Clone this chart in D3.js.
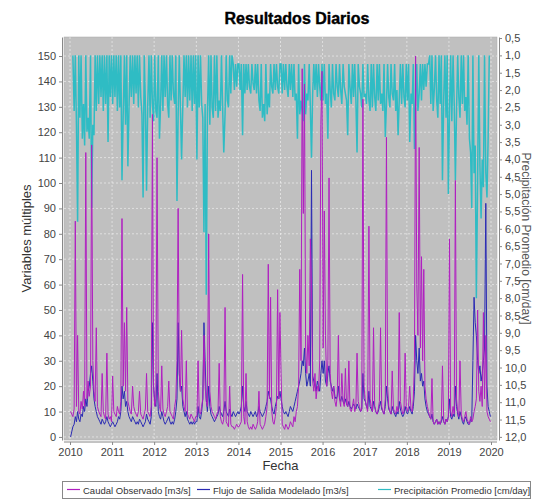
<!DOCTYPE html>
<html lang="es">
<head>
<meta charset="utf-8">
<title>Resultados Diarios</title>
<script src="https://cdnjs.cloudflare.com/ajax/libs/d3/7.8.5/d3.min.js"></script>
<style>
  body { margin: 0; background: #ffffff; }
  svg { display: block; font-family: "Liberation Sans", "DejaVu Sans", sans-serif; }
  .axis text { fill: #444; font-size: 11px; }
  .axis line, .axis path { stroke: #888; }
</style>
</head>
<body>
<svg id="chart" width="534" height="499"></svg>
<script>
// years covered, 36 samples (~10 days) per year
var years = [2010, 2011, 2012, 2013, 2014, 2015, 2016, 2017, 2018, 2019];
var xTicks = [2010, 2011, 2012, 2013, 2014, 2015, 2016, 2017, 2018, 2019, 2020];
var leftTicks = [0, 10, 20, 30, 40, 50, 60, 70, 80, 90, 100, 110, 120, 130, 140, 150];
var rightTicks = [0.5, 1, 1.5, 2, 2.5, 3, 3.5, 4, 4.5, 5, 5.5, 6, 6.5, 7, 7.5, 8, 8.5, 9, 9.5, 10, 10.5, 11, 11.5, 12];
var seriesNames = ["Caudal Observado [m3/s]", "Flujo de Salida Modelado [m3/s]", "Precipitación Promedio [cm/day]"];
var seriesColors = ["#b01fc0", "#2a2ab4", "#2fbcc4"];

// Caudal Observado [m3/s]
var caudal = [
  10,9,8,11,85,12,40,10,9,14,11,18,12,112,15,22,16,20,115,30,18,14,43,12,10,9,8,25,10,8,7,33,9,7,8,6,          // 2010
  24,10,9,8,12,10,9,14,86,20,45,18,51,14,12,10,9,20,12,10,9,8,10,18,9,8,7,9,11,25,10,9,8,12,127,20,           // 2011
  12,15,110,18,12,10,28,11,9,8,10,12,22,10,9,8,7,12,15,30,90,25,18,42,15,12,10,30,9,8,7,9,8,7,6,8,            // 2012
  8,30,10,9,12,15,40,20,14,12,80,18,12,10,9,8,7,9,10,29,8,6,5,7,51,6,5,4,20,5,4,4,3,4,5,4,                    // 2013
  4,5,6,64,8,5,25,6,4,3,4,3,5,4,3,4,6,18,5,4,3,4,5,8,12,68,15,55,10,6,5,8,12,58,15,49,                        // 2014
  25,5,4,3,5,4,3,4,6,5,4,8,6,10,12,20,66,30,145,88,139,35,25,40,28,78,60,22,18,25,15,20,18,30,123,144,        // 2015
  35,89,40,20,30,102,25,18,15,20,14,12,16,40,15,12,25,14,12,27,13,12,30,11,10,12,15,10,12,33,14,12,10,11,133,20, // 2016
  14,12,10,83,15,12,10,43,12,10,9,11,14,43,12,10,9,15,118,20,12,10,9,26,11,10,9,12,10,49,14,11,9,10,33,12,     // 2017
  10,12,20,11,10,15,30,150,60,40,114,35,71,30,66,20,15,12,10,8,7,23,6,5,6,7,5,6,5,7,28,6,5,7,6,8,             // 2018
  78,10,8,12,9,101,15,10,8,30,9,7,6,8,10,7,6,5,8,6,7,10,12,15,50,18,14,20,12,49,15,40,10,8,7,6                // 2019
];

// Flujo de Salida Modelado [m3/s]
var flujo = [
  0,2,4,5,8,6,10,7,6,9,8,12,10,15,12,18,20,25,28,22,15,12,10,8,7,6,5,7,6,5,6,8,6,5,4,5,
  6,5,4,5,6,8,7,10,20,15,18,12,14,10,8,7,6,8,7,6,5,6,5,7,6,5,4,5,6,9,7,6,5,8,45,20,
  14,12,25,10,8,7,10,8,6,5,6,7,8,6,5,6,5,7,10,15,45,25,18,20,12,10,8,10,7,6,5,6,5,6,5,6,
  6,12,8,7,10,15,45,30,15,10,20,12,9,8,7,6,7,8,9,12,10,9,8,10,14,10,9,8,11,9,8,10,9,8,9,10,
  9,10,12,20,12,10,14,10,9,8,10,9,8,9,10,8,9,12,10,9,8,9,10,12,14,18,16,15,12,10,9,12,14,16,15,18,
  15,12,10,9,10,9,8,10,12,11,10,12,14,16,18,20,22,25,30,28,35,25,20,22,25,20,105,24,22,20,18,22,20,18,25,30,
  25,30,22,20,25,28,22,20,18,20,16,15,16,20,15,14,16,14,13,15,13,12,14,12,11,12,13,12,11,13,12,11,10,11,25,15,
  14,12,11,18,12,11,10,14,12,10,9,10,12,14,11,10,9,12,20,15,11,10,9,12,10,9,8,10,9,14,11,9,8,9,12,10,
  9,10,12,10,9,12,18,40,30,25,35,22,25,20,22,15,12,10,9,8,7,9,6,5,6,7,5,6,5,6,8,6,5,7,6,8,
  15,8,7,9,8,20,12,9,7,10,8,6,5,7,8,6,5,5,7,6,30,55,45,40,30,25,28,22,25,30,35,92,20,12,10,8
];

// Precipitación Promedio [cm/day] (eje derecho, invertido)
var precip = [
  null,null,1.0,2.6,1.0,3.0,5.8,1.0,2.8,1.0,3.4,2.4,3.6,1.0,3.2,2.8,3.4,1.0,5.4,3.0,3.3,1.0,2.6,1.0,2.4,1.0,2.2,1.0,2.6,1.0,2.4,1.0,3.5,1.0,2.2,1.0,
  2.4,1.0,2.2,1.0,2.6,1.0,2.5,1.0,4.6,2.8,1.0,3.0,1.0,4.2,2.5,1.0,2.2,1.0,2.4,1.0,2.1,1.0,2.5,1.0,2.2,2.7,5.1,1.0,2.4,4.9,2.5,1.0,2.8,1.0,2.4,2.9,
  1.0,2.6,2.8,1.0,3.4,2.4,1.0,2.6,1.0,2.2,1.0,2.4,2.8,1.0,2.3,1.0,2.1,2.4,1.0,5.2,2.7,1.0,2.5,4.0,2.4,1.0,2.2,1.0,2.5,1.0,2.3,1.0,2.6,1.0,2.4,1.0,
  4.0,1.0,2.5,1.0,2.4,2.8,6.1,2.4,7.9,2.7,1.0,3.0,1.0,2.5,2.8,1.0,2.6,1.0,2.8,2.3,2.6,1.0,2.5,3.8,2.7,1.0,2.3,2.5,1.0,2.1,1.0,1.25,2.0,1.25,1.9,1.25,
  1.25,2.0,1.25,3.3,1.25,2.1,1.25,2.0,1.25,1.9,2.1,1.25,1.8,2.0,1.25,2.1,1.25,2.3,2.6,1.25,2.8,2.4,2.9,1.25,2.7,2.1,2.5,1.25,1.9,2.1,1.25,2.0,1.25,1.9,2.1,1.25,
  1.25,2.1,1.25,2.0,1.25,1.9,2.2,1.25,2.0,1.25,2.2,1.25,2.3,2.1,3.4,1.25,2.7,2.3,2.6,2.9,1.25,2.7,2.1,2.3,1.25,2.5,3.95,2.1,1.25,2.0,1.25,2.2,1.25,1.9,2.3,1.25,
  2.3,1.25,2.4,2.1,3.4,1.25,2.0,2.5,1.25,2.1,2.3,1.25,1.9,2.2,1.25,2.0,2.4,1.25,1.9,2.1,2.3,3.3,1.25,1.9,2.4,1.25,2.2,1.25,2.3,3.8,1.25,1.9,2.1,2.5,1.25,2.2,
  2.1,2.4,1.25,2.3,2.6,1.25,2.5,1.25,2.2,2.6,1.25,2.3,1.25,2.4,2.1,2.6,1.25,3.35,2.4,1.25,2.2,2.5,1.25,2.1,2.3,1.25,2.6,2.0,3.3,2.3,1.25,2.4,1.25,2.2,2.5,1.25,
  2.3,1.25,3.5,2.1,2.4,1.25,3.7,2.3,1.25,2.6,2.1,1.25,2.3,1.25,2.0,1.25,1.9,1.25,1.25,1.0,2.4,1.0,2.6,2.0,1.0,2.3,2.8,1.0,2.4,1.0,4.6,2.2,1.0,2.8,1.0,5.0,
  2.6,1.0,2.9,1.0,2.4,4.6,2.6,1.0,2.2,2.8,1.0,2.4,1.0,2.6,2.2,3.0,1.0,3.4,3.8,5.4,1.0,4.4,3.6,8.0,4.6,1.0,4.2,5.7,4.0,4.8,1.0,4.4,5.1,3.4,1.0,null
];

var svg = d3.select("#chart");
var plot = {left: 64, right: 497, top: 37, bottom: 440};

var x = d3.scaleTime()
  .domain([new Date(2010, 0, 1), new Date(2020, 0, 1)])
  .range([70, 491]);
var yL = d3.scaleLinear().domain([-1.2, 157.5]).range([plot.bottom, plot.top]);
var yR = d3.scaleLinear().domain([0.47, 12.09]).range([plot.top, plot.bottom]);

function dateOf(i) {
  var yr = years[Math.floor(i / 36)], k = i % 36;
  return new Date(yr, 0, 1 + Math.round((k + 0.5) * 365.25 / 36));
}
function toPoints(arr) {
  return arr.map(function(v, i) { return {date: dateOf(i), v: v}; });
}

// title
svg.append("text")
  .attr("x", 297).attr("y", 24)
  .attr("text-anchor", "middle")
  .attr("font-size", "16px").attr("font-weight", "bold")
  .attr("fill", "#000").attr("stroke", "#000").attr("stroke-width", 0.4)
  .text("Resultados Diarios");

// plot background
svg.append("rect")
  .attr("x", plot.left).attr("y", plot.top)
  .attr("width", plot.right - plot.left).attr("height", plot.bottom - plot.top)
  .attr("fill", "#c0c0c0").attr("stroke", "#a8a8a8").attr("stroke-width", 0.5);

svg.append("clipPath").attr("id", "clip")
  .append("rect")
  .attr("x", plot.left).attr("y", plot.top)
  .attr("width", plot.right - plot.left).attr("height", plot.bottom - plot.top);

// gridlines
var grid = svg.append("g").attr("stroke", "#ffffff").attr("stroke-width", 0.6)
  .attr("stroke-dasharray", "2,2").attr("opacity", 0.85);
grid.selectAll(".gx").data(xTicks).enter().append("line")
  .attr("x1", function(d) { return x(new Date(d, 0, 1)); })
  .attr("x2", function(d) { return x(new Date(d, 0, 1)); })
  .attr("y1", plot.top).attr("y2", plot.bottom);
grid.selectAll(".gy").data(leftTicks).enter().append("line")
  .attr("x1", plot.left).attr("x2", plot.right)
  .attr("y1", function(d) { return yL(d); })
  .attr("y2", function(d) { return yL(d); });

// series
var lineL = d3.line()
  .defined(function(d) { return d.v != null; })
  .x(function(d) { return x(d.date); })
  .y(function(d) { return yL(d.v); });
var lineR = d3.line()
  .defined(function(d) { return d.v != null; })
  .x(function(d) { return x(d.date); })
  .y(function(d) { return yR(d.v); });

var lines = svg.append("g").attr("clip-path", "url(#clip)").attr("fill", "none");
lines.append("path").datum(toPoints(precip)).attr("d", lineR)
  .attr("stroke", seriesColors[2]).attr("stroke-width", 1.5);
lines.append("path").datum(toPoints(flujo)).attr("d", lineL)
  .attr("stroke", seriesColors[1]).attr("stroke-width", 1);
lines.append("path").datum(toPoints(caudal)).attr("d", lineL)
  .attr("stroke", seriesColors[0]).attr("stroke-width", 1);

// axes
var axL = svg.append("g").attr("class", "axis").attr("transform", "translate(62,0)")
  .call(d3.axisLeft(yL).tickValues(leftTicks).tickSizeInner(3).tickSizeOuter(0).tickPadding(3));
var axR = svg.append("g").attr("class", "axis").attr("transform", "translate(499,0)")
  .call(d3.axisRight(yR).tickValues(rightTicks).tickSizeInner(3).tickSizeOuter(0).tickPadding(3)
    .tickFormat(function(d) { return d3.format(".1f")(d).replace(".", ","); }));
axR.selectAll("text").attr("font-size", "10px");
var axB = svg.append("g").attr("class", "axis").attr("transform", "translate(0,442)")
  .call(d3.axisBottom(x).tickValues(xTicks.map(function(d) { return new Date(d, 0, 1); }))
    .tickSizeInner(3).tickSizeOuter(0).tickPadding(3).tickFormat(d3.timeFormat("%Y")));
axB.select(".domain").remove();
axB.append("line").attr("x1", plot.left).attr("x2", plot.right).attr("stroke", "#888");
axB.selectAll("text").attr("font-size", "12px");

// axis titles
svg.append("text")
  .attr("x", (plot.left + plot.right) / 2).attr("y", 470)
  .attr("text-anchor", "middle").attr("font-size", "13px").attr("fill", "#333")
  .text("Fecha");
svg.append("text")
  .attr("transform", "translate(31," + (plot.top + plot.bottom) / 2 + ") rotate(-90)")
  .attr("text-anchor", "middle").attr("font-size", "13px").attr("fill", "#333")
  .text("Variables múltiples");
svg.append("text")
  .attr("transform", "translate(522," + (plot.top + plot.bottom) / 2 + ") rotate(90)")
  .attr("text-anchor", "middle").attr("font-size", "12px").attr("fill", "#555")
  .text(seriesNames[2]);

// legend
var leg = svg.append("g");
leg.append("rect").attr("x", 62.5).attr("y", 481.5).attr("width", 468).attr("height", 17)
  .attr("fill", "#fff").attr("stroke", "#888");
var legX = [67, 197, 378];
seriesNames.forEach(function(name, i) {
  leg.append("line").attr("x1", legX[i]).attr("x2", legX[i] + 13).attr("y1", 489.5).attr("y2", 489.5)
    .attr("stroke", seriesColors[i]).attr("stroke-width", 1.2);
  leg.append("text").attr("x", legX[i] + 16).attr("y", 493.5)
    .attr("font-size", "9.5px").attr("fill", "#333").text(name);
});
</script>
</body>
</html>
